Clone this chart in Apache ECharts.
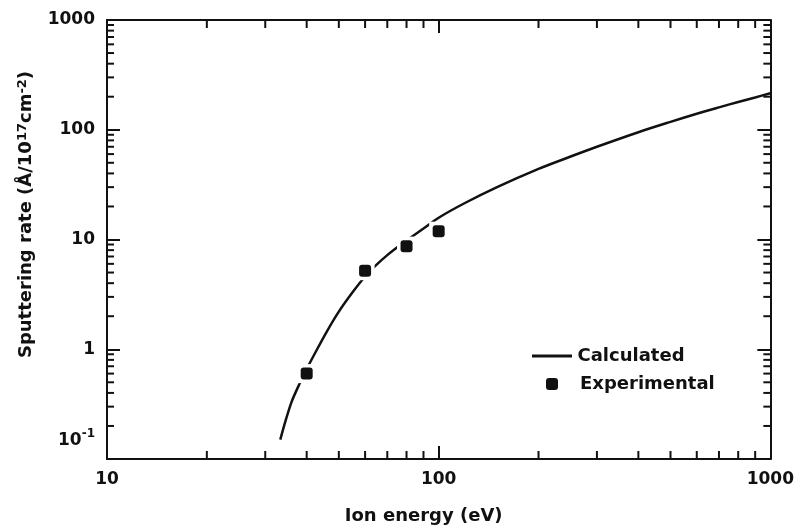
<!DOCTYPE html>
<html>
<head>
<meta charset="utf-8">
<script src="https://cdn.jsdelivr.net/npm/echarts@6/dist/echarts.min.js"></script>
<style>
  html, body { margin: 0; padding: 0; background: #fff; }
  #chart { width: 797px; height: 531px; }
</style>
</head>
<body>
<div id="chart"></div>
<script>
// Calculated sputtering rate curve (ion energy in eV, rate in Å per 1e17 ions/cm²)
const calcEnergy = [33.3, 34.5, 36, 38, 40, 43, 46, 50, 55, 60, 65, 70, 75, 80, 90, 100, 120, 150, 200, 250, 300, 400, 500, 600, 700, 800, 900, 1000];
const calcRate   = [0.15, 0.22, 0.33, 0.48, 0.66, 1.0, 1.45, 2.2, 3.3, 4.6, 5.9, 7.2, 8.5, 9.8, 12.6, 15.8, 21.5, 30, 44, 57, 70, 95, 118, 140, 160, 179, 197, 215];

// Measured points
const expEnergy = [40, 60, 80, 100];
const expRate   = [0.6, 5.2, 8.7, 11.9];

// Axis ranges and minor tick positions
const xRange = [10, 1000];
const yRange = [0.1, 1000];
const xMinorTicks = [20, 30, 40, 50, 60, 70, 80, 90, 200, 300, 400, 500, 600, 700, 800, 900];
const yMinorTicks = [0.2, 0.3, 0.4, 0.5, 0.6, 0.7, 0.8, 0.9, 2, 3, 4, 5, 6, 7, 8, 9,
                     20, 30, 40, 50, 60, 70, 80, 90, 200, 300, 400, 500, 600, 700, 800, 900];

const FONT = 'DejaVu Sans';
const INK = '#111';

const chart = echarts.init(document.getElementById('chart'), null, { renderer: 'canvas' });

// Short inward tick marks at the minor tick values, placed through the axis scales
function tickSeries(values, side, len) {
  return {
    type: 'custom',
    coordinateSystem: 'cartesian2d',
    silent: true,
    z: 5,
    data: values.map(v => (side === 'bottom' || side === 'top') ? [v, side === 'bottom' ? yRange[0] : yRange[1]]
                                                            : [side === 'left' ? xRange[0] : xRange[1], v]),
    renderItem: function (params, api) {
      const p = api.coord([api.value(0), api.value(1)]);
      let dx = 0, dy = 0;
      if (side === 'bottom') dy = -len;
      if (side === 'top') dy = len;
      if (side === 'left') dx = len;
      if (side === 'right') dx = -len;
      return {
        type: 'line',
        shape: { x1: p[0], y1: p[1], x2: p[0] + dx, y2: p[1] + dy },
        style: { stroke: INK, lineWidth: 2 }
      };
    }
  };
}

const axisCommon = {
  type: 'log',
  logBase: 10,
  axisLine: { show: true, onZero: false, lineStyle: { color: INK, width: 2 } },
  axisTick: { show: true, inside: true, length: 13, lineStyle: { color: INK, width: 2 } },
  splitLine: { show: false },
  minorTick: { show: false },
  minorSplitLine: { show: false }
};

const option = {
  backgroundColor: '#fff',
  animation: false,
  grid: { left: 107, right: 25, top: 20, bottom: 72 },
  xAxis: [
    Object.assign({}, axisCommon, {
      position: 'bottom',
      min: xRange[0], max: xRange[1], splitNumber: 2,
      name: 'Ion energy (eV)',
      nameLocation: 'middle',
      nameGap: 48,
      nameTextStyle: { fontFamily: FONT, fontSize: 18, fontWeight: 'bold', color: INK, padding: [0, 30, 0, 0] },
      axisLabel: {
        fontFamily: FONT, fontSize: 17, color: INK, margin: 12, fontWeight: 'bold',
        formatter: v => String(Math.round(v))
      }
    }),
    Object.assign({}, axisCommon, {
      position: 'top',
      min: xRange[0], max: xRange[1], splitNumber: 2,
      axisLabel: { show: false }
    })
  ],
  yAxis: [
    Object.assign({}, axisCommon, {
      position: 'left',
      min: yRange[0], max: yRange[1], splitNumber: 4,
      name: '{t|Sputtering rate (Å/10}{s|17}{t|cm}{s|-2}{t|)}',
      nameLocation: 'middle',
      nameGap: 60,
      nameRotate: 90,
      nameTextStyle: {
        padding: [0, 0, 0, 50],
        rich: {
          t: { fontFamily: FONT, fontSize: 18, fontWeight: 'bold', color: INK, lineHeight: 22 },
          s: { fontFamily: FONT, fontSize: 13, fontWeight: 'bold', color: INK, verticalAlign: 'top', lineHeight: 22, padding: [0, 0, 8, 0] }
        }
      },
      axisLabel: {
        margin: 12,
        formatter: function (v) {
          if (v < 0.5) return '{p|10}{q|-1}';
          return '{n|' + Math.round(v) + '}';
        },
        rich: {
          n: { fontFamily: FONT, fontSize: 17, fontWeight: 'bold', color: INK },
          p: { fontFamily: FONT, fontSize: 17, fontWeight: 'bold', color: INK, padding: [0, 0, 36, 0] },
          q: { fontFamily: FONT, fontSize: 12, fontWeight: 'bold', color: INK, padding: [0, 0, 50, 0] }
        }
      }
    }),
    Object.assign({}, axisCommon, {
      position: 'right',
      min: yRange[0], max: yRange[1], splitNumber: 4,
      axisLabel: { show: false }
    })
  ],
  legend: [
    {
      data: [{ name: 'Calculated', icon: 'path://M0,0H40V3H0Z' }],
      left: 527, top: 342,
      itemWidth: 41, itemHeight: 3,
      itemStyle: { color: INK, opacity: 1 },
      textStyle: { fontFamily: FONT, fontSize: 18, fontWeight: 'bold', color: INK, padding: [0, 0, 0, 0] }
    },
    {
      data: [{ name: 'Experimental', icon: 'roundRect' }],
      left: 541, top: 370,
      itemWidth: 12, itemHeight: 12,
      itemStyle: { color: INK, opacity: 1 },
      textStyle: { fontFamily: FONT, fontSize: 18, fontWeight: 'bold', color: INK, padding: [0, 0, 0, 17] }
    }
  ],
  series: [
    {
      name: 'Calculated',
      type: 'line',
      color: INK,
      data: calcEnergy.map((e, i) => [e, calcRate[i]]),
      smooth: 0.3,
      symbol: 'none',
      lineStyle: { color: INK, width: 2.5 },
      itemStyle: { color: INK },
      z: 2
    },
    {
      name: 'halo',
      type: 'scatter',
      data: expEnergy.map((e, i) => [e, expRate[i]]),
      symbol: 'rect',
      symbolSize: 19,
      itemStyle: { color: '#fff', opacity: 1 },
      silent: true,
      z: 3
    },
    {
      name: 'Experimental',
      type: 'scatter',
      color: INK,
      data: expEnergy.map((e, i) => [e, expRate[i]]),
      symbol: 'roundRect',
      symbolSize: 12,
      itemStyle: { color: INK, opacity: 1 },
      z: 4
    },
    tickSeries(xMinorTicks, 'bottom', 8),
    tickSeries(xMinorTicks, 'top', 8),
    tickSeries(yMinorTicks, 'left', 7),
    tickSeries(yMinorTicks, 'right', 7)
  ]
};

chart.setOption(option);
</script>
</body>
</html>
